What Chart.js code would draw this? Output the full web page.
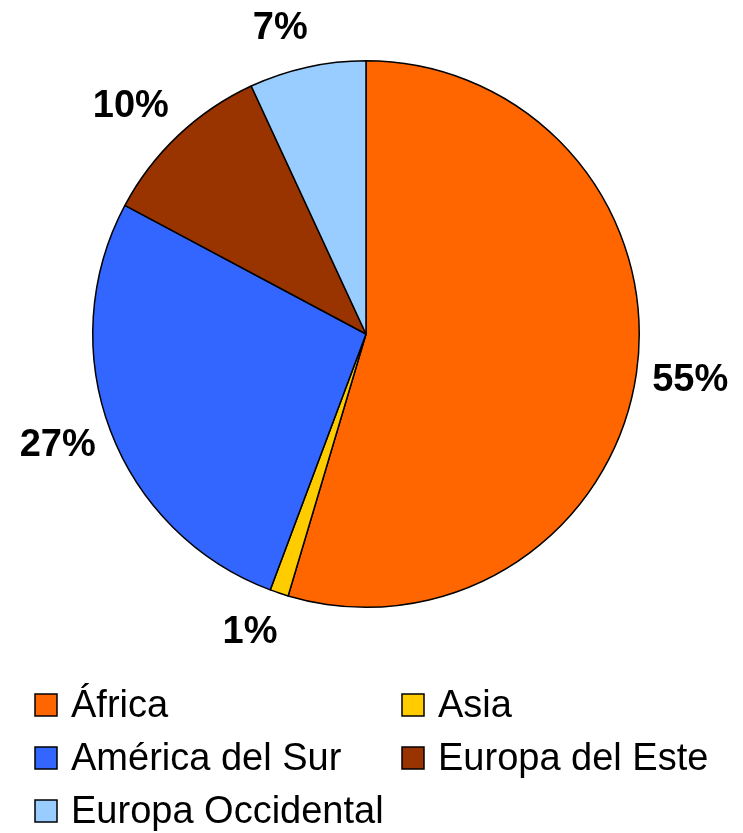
<!DOCTYPE html>
<html>
<head>
<meta charset="utf-8">
<script src="https://cdn.jsdelivr.net/npm/chart.js@4"></script>
<style>
  html, body { margin: 0; padding: 0; background: #fff; }
  #wrap { width: 743px; height: 833px; }
</style>
</head>
<body>
<div id="wrap"><canvas id="pie" width="743" height="833"></canvas></div>
<script>
// data (share of total, %)
const regions = ['África', 'Asia', 'América del Sur', 'Europa del Este', 'Europa Occidental'];
const shares = [54.6, 1.1, 27.1, 10.3, 6.9];
const colors = ['#FF6600', '#FFCC00', '#3366FF', '#993300', '#99CCFF'];
// legend order, two columns
const legendRows = [[0, 1], [2, 3], [4]];

const FONT = '"Liberation Sans", Arial, sans-serif';

const clamp = (v) => Math.max(-1, Math.min(1, v));

// percentage labels just outside each slice (box pushed away from the pie)
const outsideLabels = {
    id: 'outsideLabels',
    afterDatasetsDraw(chart) {
        const ctx = chart.ctx;
        const ds = chart.data.datasets[0].data;
        const total = ds.reduce((a, b) => a + b, 0);
        ctx.save();
        ctx.font = 'bold 38px ' + FONT;
        ctx.fillStyle = '#000';
        ctx.textAlign = 'center';
        ctx.textBaseline = 'middle';
        chart.getDatasetMeta(0).data.forEach((arc, i) => {
            const p = arc.getProps(['x', 'y', 'startAngle', 'endAngle', 'outerRadius'], true);
            const mid = (p.startAngle + p.endAngle) / 2;
            const ux = Math.cos(mid), uy = Math.sin(mid);
            const d = p.outerRadius + 21;
            const txt = Math.round(ds[i] / total * 100) + '%';
            const w = ctx.measureText(txt).width;
            const cx = p.x + ux * d + (w / 2 - 5) * clamp(ux * 5);
            const cy = p.y + uy * d + 19.5 * uy;
            ctx.fillText(txt, cx, cy + 1);
        });
        ctx.restore();
    }
};

// legend in two columns under the pie
const columnLegend = {
    id: 'columnLegend',
    afterDraw(chart) {
        const ctx = chart.ctx;
        const top = chart.chartArea.bottom + 86;
        const colX = [35, 402];
        const rowH = 53;
        ctx.save();
        ctx.font = '38px ' + FONT;
        ctx.textBaseline = 'alphabetic';
        ctx.textAlign = 'left';
        legendRows.forEach((row, r) => {
            row.forEach((idx, c) => {
                const x = colX[c];
                const base = top + r * rowH + 23;
                ctx.fillStyle = colors[idx];
                ctx.fillRect(x, base - 23, 22, 22);
                ctx.lineWidth = 1.5;
                ctx.strokeStyle = '#000';
                ctx.strokeRect(x, base - 23, 22, 22);
                ctx.fillStyle = '#000';
                ctx.fillText(regions[idx], x + 36, base);
            });
        });
        ctx.restore();
    }
};

const ctx = document.getElementById('pie').getContext('2d');
const chart = new Chart(ctx, {
    type: 'pie',
    data: {
        labels: regions,
        datasets: [
            {
                data: shares,
                backgroundColor: colors,
                borderColor: '#000',
                borderWidth: 1.5,
            },
        ],
    },
    options: {
        responsive: false,
        animation: false,
        layout: {
            padding: { left: 91, right: 102, top: 60, bottom: 225 }
        },
        plugins: {
            legend: { display: false },
            tooltip: { enabled: false }
        }
    },
    plugins: [outsideLabels, columnLegend]
});
</script>
</body>
</html>
